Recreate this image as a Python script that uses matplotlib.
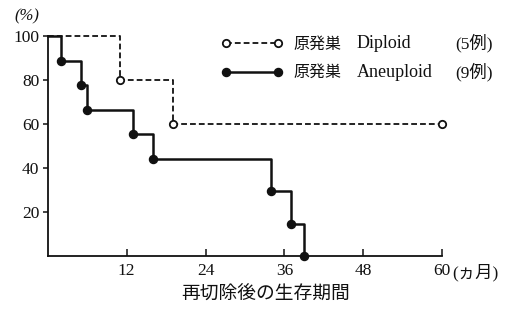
import matplotlib
matplotlib.use("Agg")
import matplotlib.pyplot as plt
from matplotlib.lines import Line2D

# Data (months, survival %)
diploid_t = [0, 11, 19, 60]
diploid_s = [100, 80, 60, 60]
aneu_t = [0, 2, 5, 6, 13, 16, 34, 37, 39]
aneu_s = [100, 88.9, 77.8, 66.7, 55.6, 44.4, 29.6, 14.8, 0]
xticks = [12, 24, 36, 48, 60]
yticks = [20, 40, 60, 80, 100]
legend_names = ["原発巣", "原発巣"]
legend_types = ["Diploid", "Aneuploid"]
legend_counts = ["(5例)", "(9例)"]
xlabel = "再切除後の生存期間"
unit_x = "(ヵ月)"
unit_y = "(%)"

W, H = 511, 310
FONT = ["Liberation Serif", "Noto Sans CJK JP", "DejaVu Sans"]
INK = "#111111"

def fx(x):
    return x / W

def fy(y):
    return 1 - y / H

fig = plt.figure(figsize=(W / 100, H / 100), dpi=100)
fig.patch.set_facecolor("white")
ax = fig.add_axes([fx(47.7), fy(256.3), (442.3 - 47.7) / W, (256.3 - 36.3) / H])
ax.set_xlim(0, 60)
ax.set_ylim(0, 100)

DASH = (0, (3.2, 1.7))
ax.step(diploid_t, diploid_s, where="post", color=INK, lw=1.3,
        linestyle=DASH, marker="o", markevery=slice(1, None),
        markersize=5.3, markerfacecolor="white", markeredgecolor=INK,
        markeredgewidth=1.3, clip_on=False, zorder=3)
ax.step(aneu_t, aneu_s, where="post", color=INK, lw=1.8,
        marker="o", markevery=slice(1, None), markersize=5.8,
        markerfacecolor=INK, markeredgecolor=INK, clip_on=False, zorder=4)

for s in ["top", "right"]:
    ax.spines[s].set_visible(False)
for s in ["left", "bottom"]:
    ax.spines[s].set_linewidth(1.3)
    ax.spines[s].set_color(INK)

ax.set_xticks(xticks)
ax.set_xticklabels([str(v) for v in xticks], family=FONT, fontsize=12.5)
ax.set_yticks(yticks)
ax.set_yticklabels([str(v) for v in yticks], family=FONT, fontsize=12.5)
ax.tick_params(axis="x", direction="in", length=5, width=1.1, pad=5, colors=INK)
ax.tick_params(axis="y", direction="out", length=3.5, width=1.1, pad=2.5, colors=INK)

# units
fig.text(fx(452), fy(277), unit_x, family=FONT, fontsize=12.5, ha="left", va="baseline", color=INK)
fig.text(fx(27), fy(16), unit_y, family=FONT, fontsize=12, ha="center", va="center", color=INK, style="italic")
fig.text(fx(266), fy(299.5), xlabel, family=FONT, fontsize=13.5, ha="center", va="baseline", color=INK)

# legend
rows_y = [48.5, 77.3]
line_y = [43, 72]
styles = [
    dict(color=INK, lw=1.3, linestyle=DASH, marker="o", markersize=5.3,
         markerfacecolor="white", markeredgecolor=INK, markeredgewidth=1.3),
    dict(color=INK, lw=1.8, linestyle="-", marker="o", markersize=5.8,
         markerfacecolor=INK, markeredgecolor=INK),
]
for y, ly, st, name, typ, cnt in zip(rows_y, line_y, styles, legend_names, legend_types, legend_counts):
    fig.add_artist(Line2D([fx(226), fx(278)], [fy(ly), fy(ly)], transform=fig.transFigure, **st))
    fig.text(fx(293), fy(y), name, family=FONT, fontsize=11.5, ha="left", va="baseline", color=INK)
    fig.text(fx(357), fy(y), typ, family=FONT, fontsize=13, ha="left", va="baseline", color=INK)
    fig.text(fx(493), fy(y), cnt, family=FONT, fontsize=12.5, ha="right", va="baseline", color=INK)

fig.savefig("out.png", dpi=100, facecolor="white")
